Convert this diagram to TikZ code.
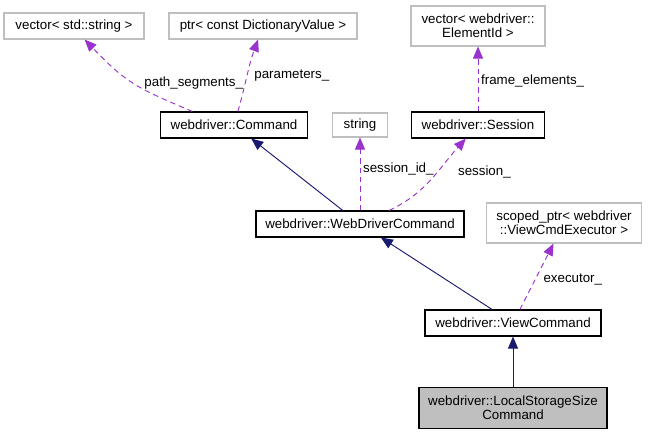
\documentclass[tikz,border=0pt]{standalone}
\usepackage{fontspec}
\setmainfont{Liberation Sans}
\usetikzlibrary{arrows.meta}

\definecolor{edgeblue}{HTML}{191970}
\definecolor{edgepurple}{HTML}{9A32CD}
\definecolor{boxgray}{HTML}{BFBFBF}

\tikzset{
  cls/.style={draw=black, line width=0.8pt, font=\fontsize{10}{10.5}\selectfont,
    align=center, minimum height=19.5pt, inner sep=2pt},
  ext/.style={cls, draw=boxgray},
  inherit/.style={draw=edgeblue, line width=0.7pt, -{Triangle[length=9pt,width=7.5pt]}},
  usage/.style={draw=edgepurple, line width=0.7pt, dash pattern=on 4pt off 3pt,
    -{Triangle[length=9pt,width=7.5pt]}},
  lbl/.style={font=\fontsize{10}{10.5}\selectfont, inner sep=2pt}
}

\begin{document}
\begin{tikzpicture}[x=0.75pt, y=-0.75pt]
\useasboundingbox (0,0) rectangle (648,435);

\node[ext, minimum width=105pt] (vecstr) at (74, 26) {vector< std::string >};
\node[ext, minimum width=141pt] (ptrdict) at (263, 26) {ptr< const DictionaryValue >};
\node[ext, minimum width=100.5pt, minimum height=30pt] (vecelem) at (478, 26) {vector< webdriver::\\ElementId >};
\node[cls, minimum width=110pt] (cmd) at (234, 125) {webdriver::Command};
\node[ext, minimum width=41pt, minimum height=18pt] (str) at (360, 125) {string};
\node[cls, minimum width=100pt] (sess) at (478, 125) {webdriver::Session};
\node[cls, minimum width=156pt] (wdc) at (360, 224) {webdriver::WebDriverCommand};
\node[ext, minimum width=116pt, minimum height=30pt] (scoped) at (564, 223) {scoped\_ptr< webdriver\\::ViewCmdExecutor >};
\node[cls, minimum width=132pt] (viewcmd) at (513, 323) {webdriver::ViewCommand};
\node[cls, fill=boxgray, minimum width=141pt, minimum height=30.5pt] (lssc) at (513, 408) {webdriver::LocalStorageSize\\Command};

\draw[usage] (cmd.162) to[out=157, in=314, looseness=1.2] node[lbl, pos=0.5, right=6pt] {path\_segments\_} (vecstr.-52);
\draw[usage] (cmd) to[out=74, in=250] node[lbl, pos=0.5, right=3pt] {parameters\_} (ptrdict);
\draw[usage] (sess) -- node[lbl, pos=0.47, right] {frame\_elements\_} (vecelem);
\draw[inherit] (wdc) -- (cmd);
\draw[usage] (wdc) -- node[lbl, pos=0.57, right] {session\_id\_} (str);
\draw[usage] (wdc) to[out=25, in=228] node[lbl, pos=0.6, right=13pt] {session\_} (sess);
\draw[inherit] (viewcmd) -- (wdc);
\draw[usage] (viewcmd) -- node[lbl, pos=0.45, right=4pt] {executor\_} (scoped);
\draw[inherit] (lssc) -- (viewcmd);
\end{tikzpicture}
\end{document}
